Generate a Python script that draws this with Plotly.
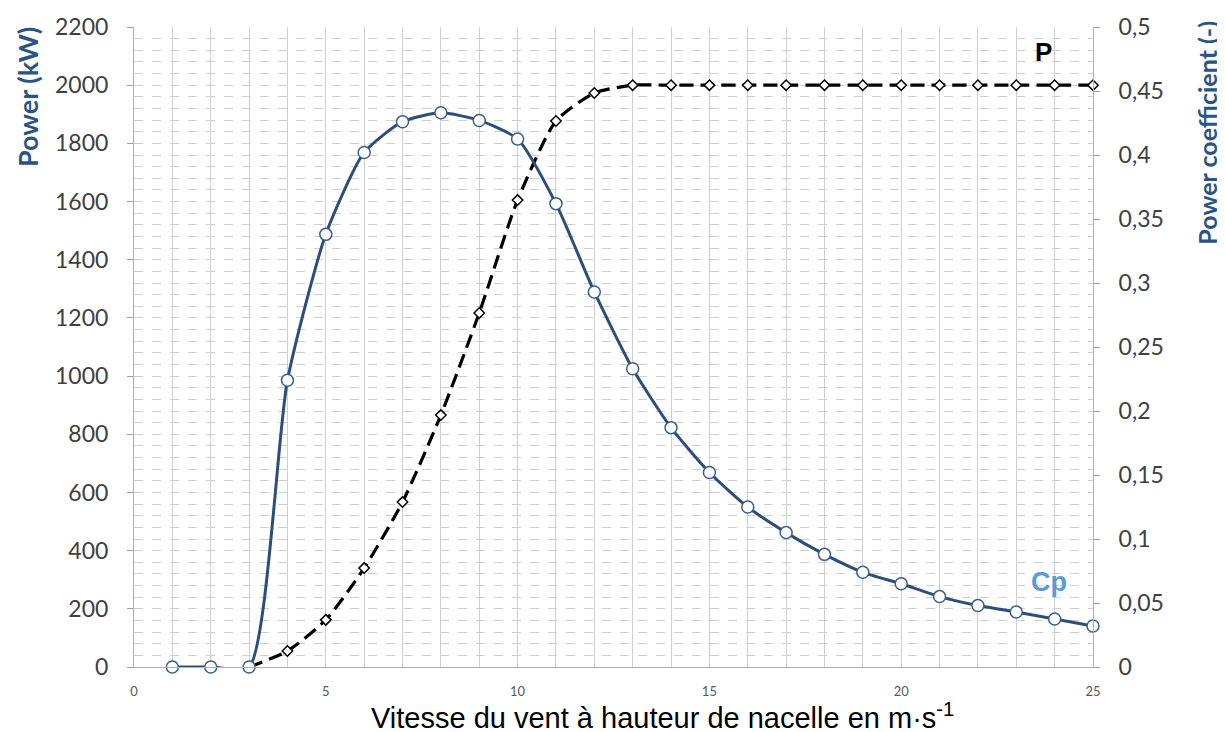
import plotly.graph_objects as go

wind_speed = list(range(1, 26))
cp_values = [0.0, 0.0, 0.0, 0.224, 0.338, 0.402, 0.426, 0.433, 0.427, 0.4125,
             0.362, 0.293, 0.233, 0.187, 0.152, 0.125, 0.105, 0.088, 0.074,
             0.065, 0.055, 0.048, 0.043, 0.0375, 0.032]
p_speed = list(range(3, 26))
power_kw = [0, 55, 162, 340, 567, 866, 1217, 1605, 1877, 1973,
            2000, 2000, 2000, 2000, 2000, 2000, 2000, 2000, 2000, 2000, 2000, 2000, 2000]

left_ticks = list(range(0, 2201, 200))
right_ticks = [0, 0.05, 0.1, 0.15, 0.2, 0.25, 0.3, 0.35, 0.4, 0.45, 0.5]
right_labels = ["0", "0,05", "0,1", "0,15", "0,2", "0,25", "0,3", "0,35", "0,4", "0,45", "0,5"]
x_ticks = [0, 5, 10, 15, 20, 25]

fig = go.Figure()

fig.add_trace(go.Scatter(
    x=p_speed, y=power_kw, mode="lines+markers", yaxis="y",
    line=dict(color="black", width=3.2, dash="14px,7px", shape="spline", smoothing=0.6),
    marker=dict(symbol="diamond", size=8, color="white", line=dict(color="black", width=1.5)),
    cliponaxis=False, showlegend=False, name="P"))

fig.add_trace(go.Scatter(
    x=wind_speed, y=cp_values, mode="lines+markers", yaxis="y2",
    line=dict(color="#2e4d78", width=3, shape="spline", smoothing=0.6),
    marker=dict(symbol="circle", size=12, color="white", line=dict(color="#3b5f8c", width=1.5)),
    cliponaxis=False, showlegend=False, name="Cp"))

grid_col = "#cfcfcf"
tick_font = dict(family="Lato, Carlito, sans-serif", size=23, color="#404040")
title_color = "#2a5486"

fig.update_layout(
    width=1225, height=732,
    margin=dict(l=126, r=140, t=19, b=73, autoexpand=False),
    paper_bgcolor="white", plot_bgcolor="white",
    xaxis=dict(
        range=[0, 25], tickvals=x_ticks, ticktext=[str(v) for v in x_ticks],
        tickfont=dict(family="Lato, sans-serif", size=13, color="#595959"),
        showgrid=True, gridcolor=grid_col, gridwidth=1,
        minor=dict(dtick=1, showgrid=True, gridcolor=grid_col, gridwidth=1),
        zeroline=False, showline=True, linecolor="#b0b0b0", ticks="",
        ticklabelstandoff=12, automargin=False,
    ),
    yaxis=dict(
        range=[0, 2200], tickvals=left_ticks, ticktext=[str(v) for v in left_ticks],
        tickfont=tick_font, showgrid=True, gridcolor=grid_col, griddash="dash", gridwidth=1,
        minor=dict(dtick=40, showgrid=True, gridcolor=grid_col, griddash="dash", gridwidth=1),
        ticks="outside", ticklen=6, tickcolor="#a0a0a0", zeroline=False,
        ticklabelstandoff=14,
        showline=True, linecolor="#b0b0b0", automargin=False,
    ),
    yaxis2=dict(
        range=[0, 0.5], overlaying="y", side="right", anchor="x",
        tickvals=right_ticks, ticktext=right_labels, tickfont=tick_font,
        showgrid=False, zeroline=False, ticks="outside", ticklen=6, tickcolor="#a0a0a0",
        ticklabelstandoff=14,
        showline=True, linecolor="#b0b0b0", automargin=False,
    ),
    annotations=[
        dict(x=-0.1116, y=0.8906, xref="paper", yref="paper", text="<b>Power (kW)</b>",
             textangle=-90, showarrow=False, xanchor="center", yanchor="middle",
             font=dict(family="Lato, Carlito, sans-serif", size=27, color=title_color)),
        dict(x=1.1189, y=0.835, xref="paper", yref="paper", text="<b>Power coefficient (-)</b>",
             textangle=-90, showarrow=False, xanchor="center", yanchor="middle",
             font=dict(family="Lato, Carlito, sans-serif", size=25, color=title_color)),
        dict(x=0.5516, y=-0.0766, xref="paper", yref="paper",
             text="Vitesse du vent à hauteur de nacelle en m·s<sup>-1</sup>",
             showarrow=False, xanchor="center", yanchor="middle",
             font=dict(family="Liberation Sans, Arial, sans-serif", size=29, color="black")),
        dict(x=23.7, y=2114, xref="x", yref="y", text="<b>P</b>", showarrow=False,
             font=dict(family="Liberation Sans, Arial, sans-serif", size=26, color="black")),
        dict(x=23.85, y=292, xref="x", yref="y", text="<b>Cp</b>", showarrow=False,
             font=dict(family="Liberation Sans, Arial, sans-serif", size=27, color="#5b9bd5")),
    ],
)

fig.write_html("out.html")
